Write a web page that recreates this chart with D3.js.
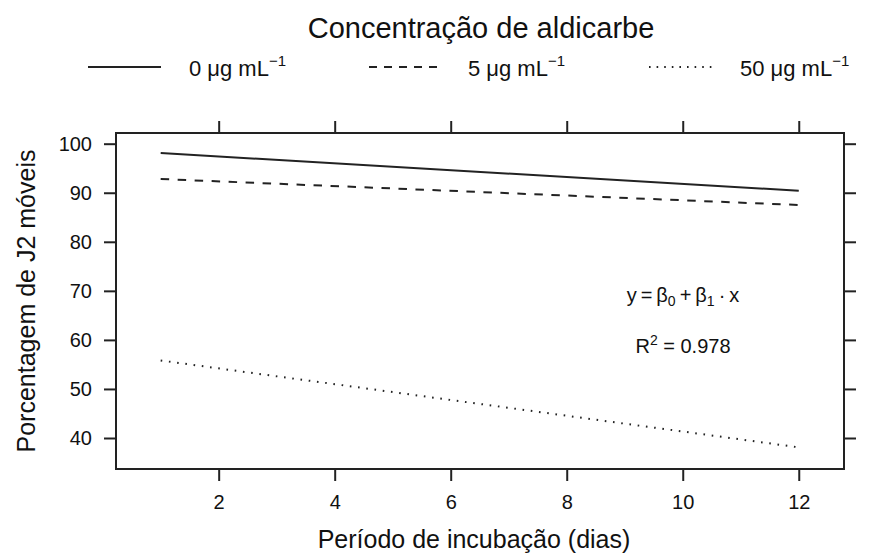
<!DOCTYPE html>
<html>
<head>
<meta charset="utf-8">
<script src="https://cdn.jsdelivr.net/npm/d3@7"></script>
<style>
  body { margin: 0; background: #fff; }
  svg text { font-family: "Liberation Sans", Arial, Helvetica, sans-serif; fill: #111; }
</style>
</head>
<body>
<svg id="chart" width="873" height="558"></svg>
<script>
// ---- data ----
const days = [1, 12];
const seriesNames = ["0", "5", "50"];
const fitted0 = [98.1, 90.4];
const fitted5 = [92.8, 87.5];
const fitted50 = [55.8, 38.1];
const xTicks = [2, 4, 6, 8, 10, 12];
const yTicks = [40, 50, 60, 70, 80, 90, 100];

const series = [
  {name: seriesNames[0], values: fitted0, dash: null, legDash: null},
  {name: seriesNames[1], values: fitted5, dash: "8.5,8.5", legDash: "8,7"},
  {name: seriesNames[2], values: fitted50, dash: "1.6,6.7", legDash: "1.6,6"}
];

/***** setup *****/
const width = 873, height = 558;
const margin = {top: 133, left: 116, right: 29, bottom: 89};
const plotWidth = width - margin.left - margin.right;
const plotHeight = height - margin.top - margin.bottom;

const svg = d3.select("#chart");

const xScale = d3.scaleLinear()
    .domain([0.23, 12.78])
    .range([margin.left, margin.left + plotWidth]);

const yScale = d3.scaleLinear()
    .domain([33.68, 102.18])
    .range([margin.top + plotHeight, margin.top]);

/***** axes (lattice style, ticks outside on all four sides) *****/
const TICK = 12;
function styleAxis(g) {
    g.select(".domain").remove();
    g.selectAll(".tick line").attr("stroke", "#222").attr("stroke-width", 2);
    g.selectAll(".tick text")
        .style("font-family", "Liberation Sans, Arial, sans-serif")
        .style("font-size", "20px")
        .attr("fill", "#111");
}

svg.append("g")
    .attr("transform", `translate(0, ${margin.top + plotHeight})`)
    .call(d3.axisBottom(xScale).tickValues(xTicks).tickSize(TICK).tickPadding(14))
    .call(styleAxis);

svg.append("g")
    .attr("transform", `translate(0, ${margin.top})`)
    .call(d3.axisTop(xScale).tickValues(xTicks).tickSize(TICK).tickFormat(""))
    .call(styleAxis);

svg.append("g")
    .attr("transform", `translate(${margin.left}, 0)`)
    .call(d3.axisLeft(yScale).tickValues(yTicks).tickSize(TICK).tickPadding(12))
    .call(styleAxis);

svg.append("g")
    .attr("transform", `translate(${margin.left + plotWidth}, 0)`)
    .call(d3.axisRight(yScale).tickValues(yTicks).tickSize(TICK).tickFormat(""))
    .call(styleAxis);

// panel box
svg.append("rect")
    .attr("x", margin.left)
    .attr("y", margin.top)
    .attr("width", plotWidth)
    .attr("height", plotHeight)
    .attr("fill", "none")
    .attr("stroke", "#222")
    .attr("stroke-width", 2);

/***** lines *****/
const line = d3.line()
    .x((d, i) => xScale(days[i]))
    .y(d => yScale(d));

svg.append("g").selectAll("path")
    .data(series)
    .join("path")
    .attr("d", d => line(d.values))
    .attr("fill", "none")
    .attr("stroke", "#222")
    .attr("stroke-width", 2)
    .attr("stroke-dasharray", d => d.dash);

/***** annotation *****/
const ann = svg.append("g").style("font-size", "20px");
const thin = "\u2009";
const eq = ann.append("text")
    .attr("x", 683).attr("y", 302)
    .attr("text-anchor", "middle");
eq.append("tspan").text("y" + thin + "=" + thin + "β");
eq.append("tspan").attr("font-size", "14px").attr("dy", 4).text("0");
eq.append("tspan").attr("dy", -4).text(thin + "+" + thin + "β");
eq.append("tspan").attr("font-size", "14px").attr("dy", 4).text("1");
eq.append("tspan").attr("dy", -4).text(thin + "·" + thin + "x");

const r2 = ann.append("text")
    .attr("x", 683).attr("y", 353)
    .attr("text-anchor", "middle");
r2.append("tspan").text("R");
r2.append("tspan").attr("font-size", "14px").attr("dy", -8).text("2");
r2.append("tspan").attr("dy", 8).text(" = 0.978");

/***** axis titles *****/
svg.append("text")
    .attr("x", 474).attr("y", 548)
    .attr("text-anchor", "middle")
    .style("font-size", "25px")
    .text("Período de incubação (dias)");

svg.append("text")
    .attr("transform", `translate(35, ${margin.top + plotHeight / 2}) rotate(-90)`)
    .attr("text-anchor", "middle")
    .style("font-size", "25px")
    .text("Porcentagem de J2 móveis");

/***** legend *****/
svg.append("text")
    .attr("x", 481).attr("y", 38)
    .attr("text-anchor", "middle")
    .style("font-size", "29px")
    .text("Concentração de aldicarbe");

const legendX = [{x1: 88, x2: 161, tx: 189}, {x1: 369, x2: 441, tx: 468}, {x1: 649, x2: 712, tx: 740}];
const leg = svg.append("g").selectAll("g")
    .data(series)
    .join("g");

leg.append("line")
    .attr("x1", (d, i) => legendX[i].x1)
    .attr("x2", (d, i) => legendX[i].x2)
    .attr("y1", 67).attr("y2", 67)
    .attr("stroke", "#222")
    .attr("stroke-width", 2)
    .attr("stroke-dasharray", d => d.legDash);

const lt = leg.append("text")
    .attr("x", (d, i) => legendX[i].tx)
    .attr("y", 75.5)
    .style("font-size", "22px");
lt.append("tspan").text(d => d.name + " μg mL");
lt.append("tspan").attr("font-size", "15px").attr("dy", -10).text("−1");
</script>
</body>
</html>
